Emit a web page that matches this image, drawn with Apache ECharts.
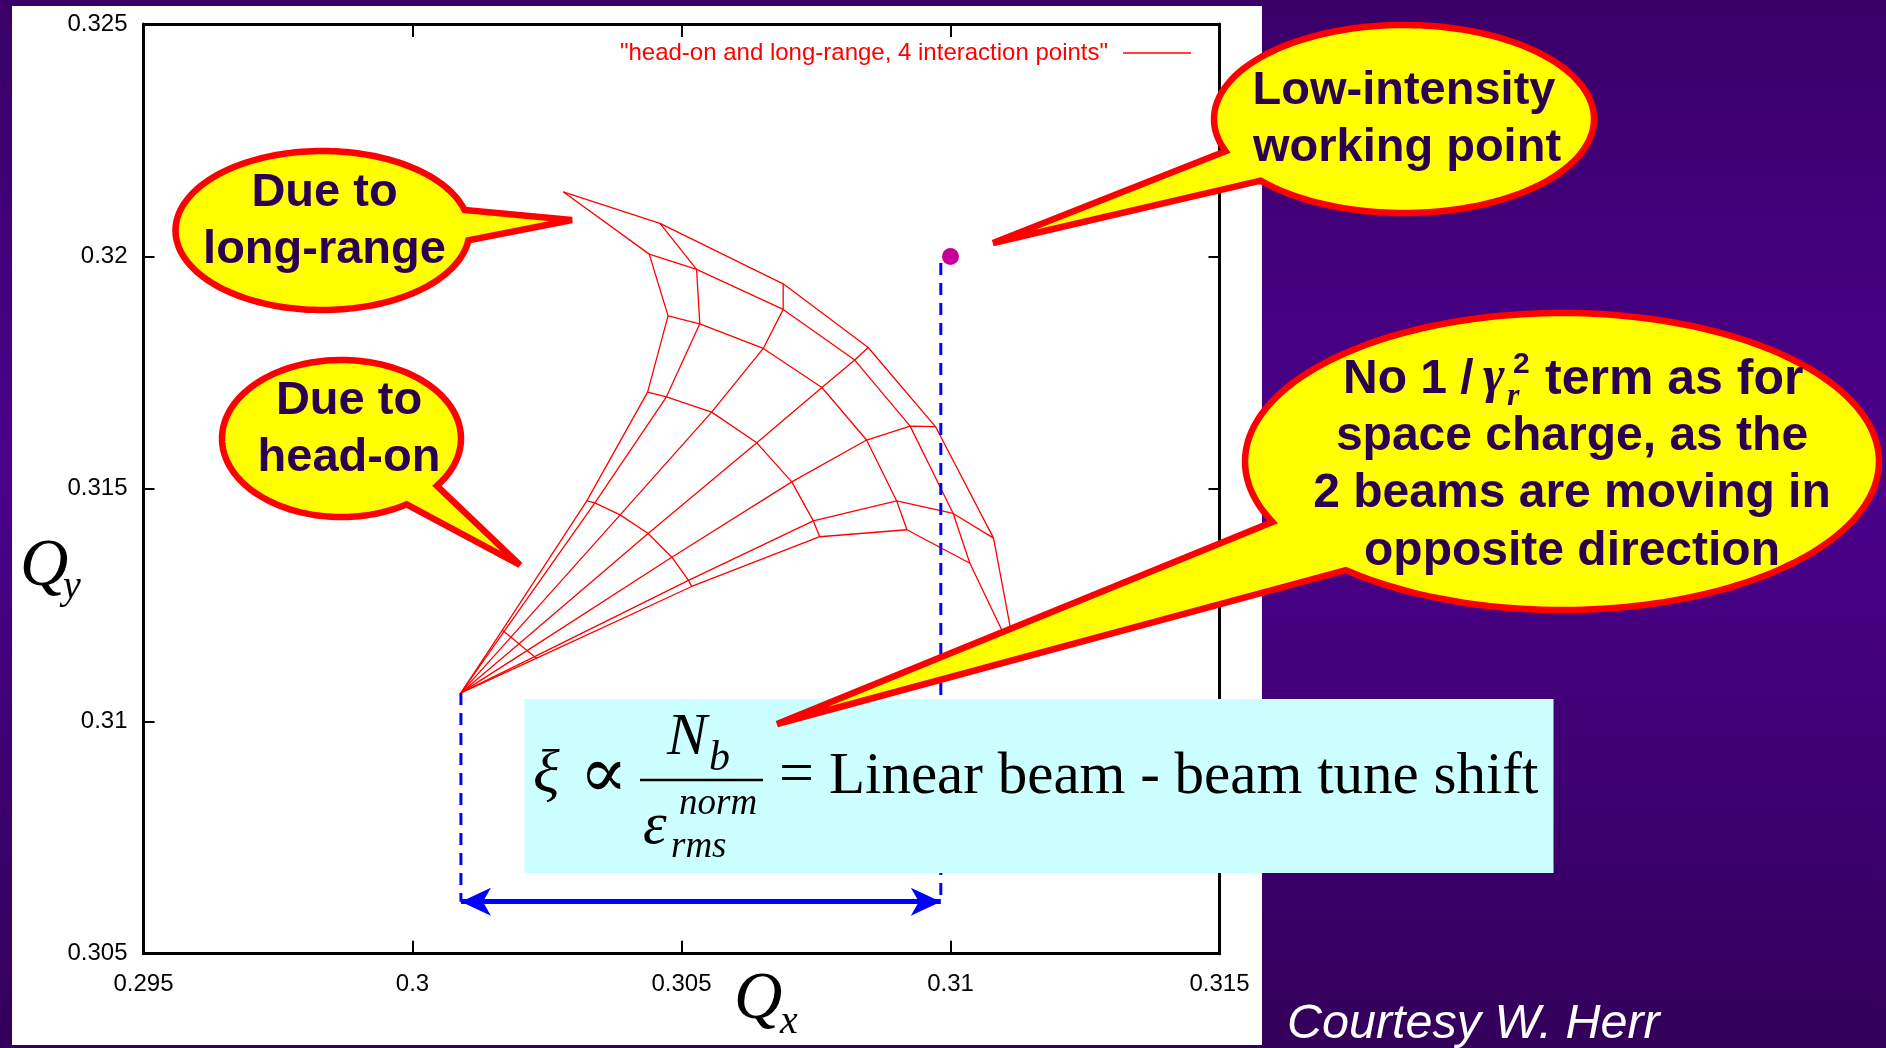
<!DOCTYPE html>
<html>
<head>
<meta charset="utf-8">
<script src="https://cdn.jsdelivr.net/npm/echarts@6/dist/echarts.min.js"></script>
<style>
  html, body { margin: 0; padding: 0; background: #fff; }
  #chart { width: 1886px; height: 1048px; }
</style>
</head>
<body>
<div id="chart"></div>
<script>
// ---- axis ticks -------------------------------------------------------
const qxTicks = [0.295, 0.3, 0.305, 0.31, 0.315];
const qyTicks = [0.305, 0.31, 0.315, 0.32, 0.325];

// ---- tune footprint ---------------------------------------------------
// rows: amplitude rings 0 … 6 (ring 0 = zero amplitude, the full head-on shift)
// columns: amplitude-ratio angles, from purely vertical to purely horizontal
const FOOTPRINT = '"head-on and long-range, 4 interaction points"';
const footprintQx = [
  [0.30090, 0.30090, 0.30090, 0.30090, 0.30090, 0.30090, 0.30090],
  [0.30167, 0.30170, 0.30183, 0.30198, 0.30213, 0.30227, 0.30231],
  [0.30324, 0.30339, 0.30386, 0.30438, 0.30482, 0.30513, 0.30519],
  [0.30437, 0.30472, 0.30556, 0.30640, 0.30705, 0.30745, 0.30757],
  [0.30475, 0.30534, 0.30652, 0.30761, 0.30844, 0.30900, 0.30919],
  [0.30440, 0.30528, 0.30689, 0.30822, 0.30925, 0.31005, 0.31036],
  [0.30280, 0.30460, 0.30689, 0.30847, 0.30972, 0.31080, 0.31123]
];
const footprintQy = [
  [0.31061, 0.31061, 0.31061, 0.31061, 0.31061, 0.31061, 0.31061],
  [0.31196, 0.31193, 0.31181, 0.31167, 0.31152, 0.31139, 0.31136],
  [0.31474, 0.31470, 0.31444, 0.31404, 0.31353, 0.31303, 0.31290],
  [0.31708, 0.31698, 0.31665, 0.31599, 0.31515, 0.31431, 0.31397],
  [0.31872, 0.31855, 0.31802, 0.31718, 0.31605, 0.31474, 0.31412],
  [0.32005, 0.31972, 0.31886, 0.31777, 0.31635, 0.31447, 0.31340],
  [0.32139, 0.32071, 0.31941, 0.31804, 0.31634, 0.31394, 0.31129]
];

// ---- working point and tune-shift markers -----------------------------
const workingPoint = [0.31, 0.32];
const spreadQx = [0.30090, 0.30982];      // left / right dashed guides
const spreadTopQy = [0.31061, 0.31986];   // where each guide starts
const spreadArrowQy = 0.30612;            // level of the double arrow

// ---- fonts / colours ---------------------------------------------------
const SANS = "'Liberation Sans', Arial, sans-serif";
const SERIF = "'Liberation Serif', 'Times New Roman', 'DejaVu Serif', serif";
const INK = '#2a0050';

// ---- series -----------------------------------------------------------
const meshStyle = { color: '#ff0000', width: 1.3 };
const series = [];
// lines of constant amplitude ratio (fan out of the zero-amplitude point)
for (let j = 0; j < footprintQx[0].length; j++) {
  series.push({
    name: FOOTPRINT, type: 'line', symbol: 'none', silent: true, z: 2,
    lineStyle: meshStyle, itemStyle: { color: '#ff0000' },
    data: footprintQx.map((row, i) => [row[j], footprintQy[i][j]])
  });
}
// lines of constant amplitude
for (let i = 1; i < footprintQx.length; i++) {
  series.push({
    name: FOOTPRINT, type: 'line', symbol: 'none', silent: true, z: 2,
    lineStyle: meshStyle, itemStyle: { color: '#ff0000' },
    data: footprintQx[i].map((x, j) => [x, footprintQy[i][j]])
  });
}
// dashed guides down to the arrow
spreadQx.forEach((qx, k) => {
  series.push({
    name: 'guide' + k, type: 'line', symbol: 'none', silent: true, z: 3,
    lineStyle: { color: '#0000ff', width: 3, type: [12, 8] },
    data: [[qx, spreadTopQy[k]], [qx, spreadArrowQy]]
  });
});
// double arrow spanning the linear beam-beam tune shift;
// the head sits in the lower half of the symbol box so its tip lands on the line end
const ARROW = 'path://M14,0L14.0005,0.001L13.9995,0.001Z M14,30L28,60L14,52L0,60Z';
series.push({
  name: 'tune shift', type: 'lines', coordinateSystem: 'cartesian2d',
  xAxisIndex: 0, yAxisIndex: 0, silent: true, z: 4,
  symbol: [ARROW, ARROW], symbolSize: [[28, 60], [28, 60]],
  lineStyle: { color: '#0000ff', width: 5, opacity: 1, curveness: 0 },
  data: [{ coords: [[spreadQx[0], spreadArrowQy], [spreadQx[1], spreadArrowQy]] }]
});
// low-intensity working point
series.push({
  name: 'working point', type: 'scatter', silent: true, z: 5,
  symbolSize: 17, itemStyle: { color: '#c8009a', opacity: 1 },
  data: [workingPoint]
});

// ---- axes -------------------------------------------------------------
const fmt = v => String(+v.toFixed(3));
function xAx(pos, labels) {
  return {
    type: 'value', position: pos, min: qxTicks[0], max: qxTicks[qxTicks.length - 1],
    interval: qxTicks[1] - qxTicks[0],
    axisLine: { show: true, onZero: false, lineStyle: { color: '#000', width: 3 } },
    axisTick: { show: true, inside: true, length: 13, lineStyle: { color: '#000', width: 2 } },
    axisLabel: { show: labels, margin: 19, color: '#000', fontSize: 24, fontFamily: SANS,
                 formatter: fmt },
    splitLine: { show: false }
  };
}
function yAx(pos, labels) {
  return {
    type: 'value', position: pos, min: qyTicks[0], max: qyTicks[qyTicks.length - 1],
    interval: qyTicks[1] - qyTicks[0],
    axisLine: { show: true, onZero: false, lineStyle: { color: '#000', width: 3 } },
    axisTick: { show: true, inside: true, length: 11, lineStyle: { color: '#000', width: 2 } },
    axisLabel: { show: labels, margin: 16, color: '#000', fontSize: 24, fontFamily: SANS,
                 formatter: fmt },
    splitLine: { show: false }
  };
}

// ---- callout bubbles --------------------------------------------------
// ellipse outline sampled the long way round from a2 back to a1, then the pointer tip
function calloutPoints(cx, cy, rx, ry, a1, a2, tip) {
  const pts = [];
  const n = 180;
  const span = 360 - (a2 - a1);
  for (let k = 0; k <= n; k++) {
    const a = (a2 + span * k / n) * Math.PI / 180;
    pts.push([cx + rx * Math.cos(a), cy + ry * Math.sin(a)]);
  }
  pts.push(tip);
  return pts;
}
function bubble(cx, cy, rx, ry, a1, a2, tip) {
  return {
    type: 'polygon', silent: true, z: 50,
    shape: { points: calloutPoints(cx, cy, rx, ry, a1, a2, tip) },
    style: { fill: '#ffff00', stroke: '#ff0000', lineWidth: 6.5, lineJoin: 'miter', miterLimit: 3 }
  };
}
function txt(x, y, text, font, opts) {
  return Object.assign({
    type: 'text', x: x, y: y, silent: true, z: 52,
    style: { text: text, font: font, fill: INK, textAlign: 'center', textVerticalAlign: 'middle' }
  }, opts || {});
}
function ltxt(x, y, text, font, fill, z) {
  return {
    type: 'text', x: x, y: y, silent: true, z: z || 52,
    style: { text: text, font: font, fill: fill || INK, textAlign: 'left', textVerticalAlign: 'middle' }
  };
}
const BOLD = 'bold 47px ' + SANS;
const BOLD48 = 'bold 48px ' + SANS;

const graphics = [
  // slide background and white plot panel
  { type: 'rect', silent: true, z: -20, shape: { x: 0, y: 0, width: 1886, height: 1048 },
    style: { fill: new echarts.graphic.LinearGradient(0, 0, 0, 1, [
      { offset: 0, color: '#3a0068' }, { offset: 0.45, color: '#4b008c' }, { offset: 1, color: '#33005a' }]) } },
  { type: 'rect', silent: true, z: -19, shape: { x: 12, y: 6, width: 1250, height: 1039 },
    style: { fill: '#ffffff' } },

  // "Due to long-range"
  bubble(322.5, 230.5, 147, 79.5, -15, 7, [572, 220]),
  txt(324.5, 193, 'Due to', BOLD),
  txt(324.5, 250, 'long-range', BOLD),

  // "Due to head-on"
  bubble(341.5, 438.5, 119.5, 78.5, 37, 57, [520, 565]),
  txt(349, 401, 'Due to', BOLD),
  txt(349, 458, 'head-on', BOLD),

  // "Low-intensity working point"
  bubble(1404, 119, 190, 94, 139, 160, [993, 243]),
  txt(1404, 91, 'Low-intensity', BOLD),
  txt(1407, 148.5, 'working point', BOLD),

  // formula box
  { type: 'rect', silent: true, z: 40, shape: { x: 524.5, y: 699, width: 1029, height: 174 },
    style: { fill: '#ccffff' } },
  ltxt(533, 776, 'ξ', 'italic 62px ' + SERIF, '#000', 41),
  { type: 'text', x: 603.5, y: 778, silent: true, z: 41,
    style: { text: '∝', font: '72px ' + SERIF, fill: '#000', textAlign: 'center', textVerticalAlign: 'middle' } },
  ltxt(667, 738, 'N', 'italic 60px ' + SERIF, '#000', 41),
  ltxt(709, 759, 'b', 'italic 42px ' + SERIF, '#000', 41),
  { type: 'rect', silent: true, z: 41, shape: { x: 640, y: 778.8, width: 123, height: 2.5 },
    style: { fill: '#000' } },
  ltxt(643, 827, 'ε', 'italic 60px ' + SERIF, '#000', 41),
  ltxt(679, 804.5, 'norm', 'italic 37px ' + SERIF, '#000', 41),
  ltxt(671, 847.5, 'rms', 'italic 37px ' + SERIF, '#000', 41),
  { type: 'text', x: 796.5, y: 777, silent: true, z: 41,
    style: { text: '=', font: '62px ' + SERIF, fill: '#000', textAlign: 'center', textVerticalAlign: 'middle' } },
  ltxt(829, 777, 'Linear beam - beam tune shift', '59px ' + SERIF, '#000', 41),

  // "No 1/γr² term as for space charge ..."
  bubble(1562, 461.5, 317, 148.5, 133, 156, [777, 724]),
  ltxt(1343, 380, 'No 1 /', BOLD48),
  ltxt(1483, 379, 'γ', 'bold italic 52px ' + SERIF),
  ltxt(1507, 397, 'r', 'bold italic 32px ' + SERIF),
  ltxt(1513, 364.5, '2', 'bold 30px ' + SANS),
  ltxt(1545, 380, 'term as for', 'bold 50px ' + SANS),
  txt(1572, 437, 'space charge, as the', BOLD48),
  txt(1572, 494, '2 beams are moving in', BOLD48),
  txt(1572, 551.5, 'opposite direction', BOLD48),

  // axis names
  ltxt(20, 567, 'Q', 'italic 67px ' + SERIF, '#000', 10),
  ltxt(63, 587, 'y', 'italic 40px ' + SERIF, '#000', 10),
  ltxt(734, 1000, 'Q', 'italic 67px ' + SERIF, '#000', 10),
  ltxt(780, 1022, 'x', 'italic 40px ' + SERIF, '#000', 10),

  // credit
  ltxt(1287, 1024.5, 'Courtesy W. Herr', 'italic 48.5px ' + SANS, '#ffffff', 10)
];

const chart = echarts.init(document.getElementById('chart'), null, { renderer: 'canvas' });
chart.setOption({
  animation: false,
  backgroundColor: '#ffffff',
  grid: { left: 143.5, top: 24, width: 1076, height: 929.7, containLabel: false },
  xAxis: [xAx('bottom', true), xAx('top', false)],
  yAxis: [yAx('left', true), yAx('right', false)],
  legend: {
    data: [FOOTPRINT], selectedMode: false, right: 690, top: 36, align: 'right',
    icon: 'rect', itemWidth: 68, itemHeight: 1.6, itemGap: 0,
    textStyle: { color: '#ff0000', fontSize: 24, fontFamily: SANS, padding: [0, 10, 0, 0] }
  },
  series: series,
  graphic: { elements: graphics }
});
</script>
</body>
</html>
